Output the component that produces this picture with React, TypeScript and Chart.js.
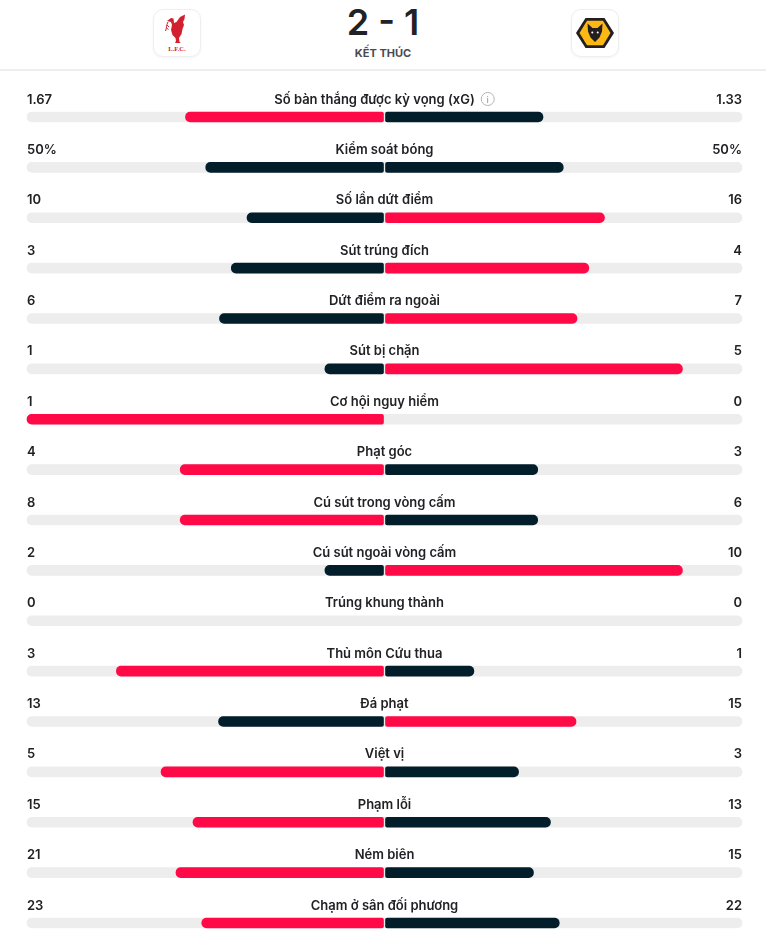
import React, { useEffect, useRef } from 'react';
import { Chart, registerables } from 'chart.js';

Chart.register(...registerables);

const categories = [
  'Số bàn thắng được kỳ vọng (xG)',
  'Kiểm soát bóng',
  'Số lần dứt điểm',
  'Sút trúng đích',
  'Dứt điểm ra ngoài',
  'Sút bị chặn',
  'Cơ hội nguy hiểm',
  'Phạt góc',
  'Cú sút trong vòng cấm',
  'Cú sút ngoài vòng cấm',
  'Trúng khung thành',
  'Thủ môn Cứu thua',
  'Đá phạt',
  'Việt vị',
  'Phạm lỗi',
  'Ném biên',
  'Chạm ở sân đối phương',
];
const homeValues = [1.67, 50, 10, 3, 6, 1, 1, 4, 8, 2, 0, 3, 13, 5, 15, 21, 23];
const awayValues = [1.33, 50, 16, 4, 7, 5, 0, 3, 6, 10, 0, 1, 15, 3, 13, 15, 22];
const valueSuffix = ['', '%', '', '', '', '', '', '', '', '', '', '', '', '', '', '', ''];
const infoRows = [0];

const RED = '#ff0a47';
const DARK = '#021e2b';
const TRACK = '#ededed';
const TEXT = '#222226';
const GAP = 0.0028;
const FONT = 'Inter, "Noto Sans", sans-serif';

const totals = homeValues.map((v, i) => v + awayValues[i]);
const homeShare = homeValues.map((v, i) => (totals[i] ? v / totals[i] : 0));
const awayShare = awayValues.map((v, i) => (totals[i] ? v / totals[i] : 0));

const statText = {
  id: 'statText',
  afterDatasetsDraw(chart: any) {
    const { ctx, chartArea, scales } = chart;
    const cx = scales.x.getPixelForValue(0);
    ctx.save();
    ctx.fillStyle = TEXT;
    ctx.font = `600 13px ${FONT}`;
    ctx.textBaseline = 'alphabetic';
    categories.forEach((label, i) => {
      const yy = scales.y.getPixelForValue(i) - 13.5;
      ctx.fillStyle = TEXT;
      ctx.textAlign = 'left';
      ctx.fillText(String(homeValues[i]) + valueSuffix[i], chartArea.left, yy);
      ctx.textAlign = 'right';
      ctx.fillText(String(awayValues[i]) + valueSuffix[i], chartArea.right, yy);
      if (infoRows.includes(i)) {
        const w = ctx.measureText(label).width;
        const iconR = 7;
        const total = w + 6 + iconR * 2;
        const start = cx - total / 2;
        ctx.textAlign = 'left';
        ctx.fillText(label, start, yy);
        const icx = start + w + 6 + iconR;
        const icy = yy - 4.5;
        ctx.beginPath();
        ctx.arc(icx, icy, iconR - 0.5, 0, Math.PI * 2);
        ctx.strokeStyle = '#b4b4b8';
        ctx.lineWidth = 1;
        ctx.stroke();
        ctx.fillStyle = '#a0a0a6';
        ctx.font = `500 9px ${FONT}`;
        ctx.textAlign = 'center';
        ctx.fillText('i', icx, icy + 3.5);
        ctx.font = `600 13px ${FONT}`;
      } else {
        ctx.textAlign = 'center';
        ctx.fillText(label, cx, yy);
      }
    });
    ctx.restore();
  },
};

function LiverpoolLogo() {
  return (
    <svg width="46" height="46" viewBox="0 0 46 46">
      <path
        d="M13,11 L17,8 L19.5,8.5 L20,13 L22.5,12 L26,7 L31,4.5 L30.5,9 L29,12 L30,15 L28.5,19 L27.5,24 L25,28 L25.5,32 L27,33 L21,33 L22,31 L21.5,28 L18.5,25 L17,20 L18,15 L17,12 Z"
        fill="#d3202f"
      />
      <path d="M14,12 C12,15 13,18 11.5,21 M13,15 L15,17 M12.5,18 L14.5,19.5" stroke="#d3202f" strokeWidth="1" fill="none" />
      <text x="23" y="40.5" textAnchor="middle" fontSize="6.5" fontFamily="'Liberation Serif', serif" fontWeight="700" fill="#d3202f">L.F.C.</text>
    </svg>
  );
}

function WolvesLogo() {
  return (
    <svg width="46" height="46" viewBox="0 0 46 46">
      <polygon points="4,23 13.5,8 32.5,8 42,23 32.5,38 13.5,38" fill="#231f20" />
      <polygon points="7.5,23 15,10.8 31,10.8 38.5,23 31,35.2 15,35.2" fill="#fdb913" />
      <path d="M15.5,13.5 L20.5,18 L25.5,18 L30.5,13.5 L30,21.5 L27.5,27.5 L23,32 L18.5,27.5 L16,21.5 Z" fill="#231f20" />
      <circle cx="20.3" cy="22.5" r="1" fill="#ffffff" />
      <circle cx="25.7" cy="22.5" r="1" fill="#ffffff" />
    </svg>
  );
}

const logoBox: React.CSSProperties = {
  position: 'absolute',
  top: 9,
  width: 46,
  height: 46,
  borderRadius: 10,
  border: '1px solid #efefef',
  boxShadow: '0 1px 3px rgba(0,0,0,0.05)',
  background: '#fff',
  display: 'flex',
  alignItems: 'center',
  justifyContent: 'center',
};

export default function App() {
  const canvasRef = useRef<HTMLCanvasElement | null>(null);

  useEffect(() => {
    if (!canvasRef.current) return;
    const common = {
      borderSkipped: false,
      barThickness: 10,
      grouped: false,
      clip: false,
    };
    const chart = new Chart(canvasRef.current, {
      type: 'bar',
      data: {
        labels: categories,
        datasets: [
          {
            label: 'home',
            data: homeShare.map((s) => (s > 0 ? [-s, -GAP] : null)),
            backgroundColor: homeValues.map((v, i) => (v > awayValues[i] ? RED : DARK)),
            borderRadius: { topLeft: 5, bottomLeft: 5, topRight: 2, bottomRight: 2 },
            order: 1,
            ...common,
          },
          {
            label: 'away',
            data: awayShare.map((s) => (s > 0 ? [GAP, s] : null)),
            backgroundColor: awayValues.map((v, i) => (v > homeValues[i] ? RED : DARK)),
            borderRadius: { topLeft: 2, bottomLeft: 2, topRight: 5, bottomRight: 5 },
            order: 1,
            ...common,
          },
          {
            label: 'track',
            data: categories.map(() => [-1, 1]),
            backgroundColor: TRACK,
            borderRadius: 5,
            order: 2,
            ...common,
          },
        ] as any,
      },
      options: {
        indexAxis: 'y',
        animation: false,
        responsive: false,
        events: [],
        layout: { padding: { left: 27, right: 24, top: 46, bottom: 17 } },
        plugins: { legend: { display: false }, tooltip: { enabled: false } },
        scales: {
          x: { type: 'linear', min: -1, max: 1, display: false },
          y: { type: 'category', display: false, offset: false },
        },
      } as any,
      plugins: [statText],
    });
    return () => chart.destroy();
  }, []);

  return (
    <div
      style={{
        position: 'absolute',
        left: 0,
        top: 0,
        width: 766,
        height: 940,
        background: '#ffffff',
        fontFamily: FONT,
        overflow: 'hidden',
      }}
    >
      <div style={{ ...logoBox, left: 153 }}>
        <LiverpoolLogo />
      </div>
      <div style={{ ...logoBox, left: 571 }}>
        <WolvesLogo />
      </div>
      <div
        style={{
          position: 'absolute',
          left: 0,
          top: 4,
          width: 766,
          textAlign: 'center',
          fontSize: 36,
          lineHeight: '36px',
          fontWeight: 600,
          color: TEXT,
          letterSpacing: 0,
        }}
      >
        2 - 1
      </div>
      <div
        style={{
          position: 'absolute',
          left: 0,
          top: 48,
          width: 766,
          textAlign: 'center',
          fontSize: 11,
          lineHeight: '11px',
          fontWeight: 700,
          color: '#4a4a52',
        }}
      >
        KẾT THÚC
      </div>
      <div style={{ position: 'absolute', left: 0, top: 69, width: 766, height: 2, background: '#eeeeee' }} />
      <div style={{ position: 'absolute', left: 0, top: 71, width: 766, height: 869 }}>
        <canvas ref={canvasRef} width={766} height={869} style={{ display: 'block' }} />
      </div>
    </div>
  );
}
